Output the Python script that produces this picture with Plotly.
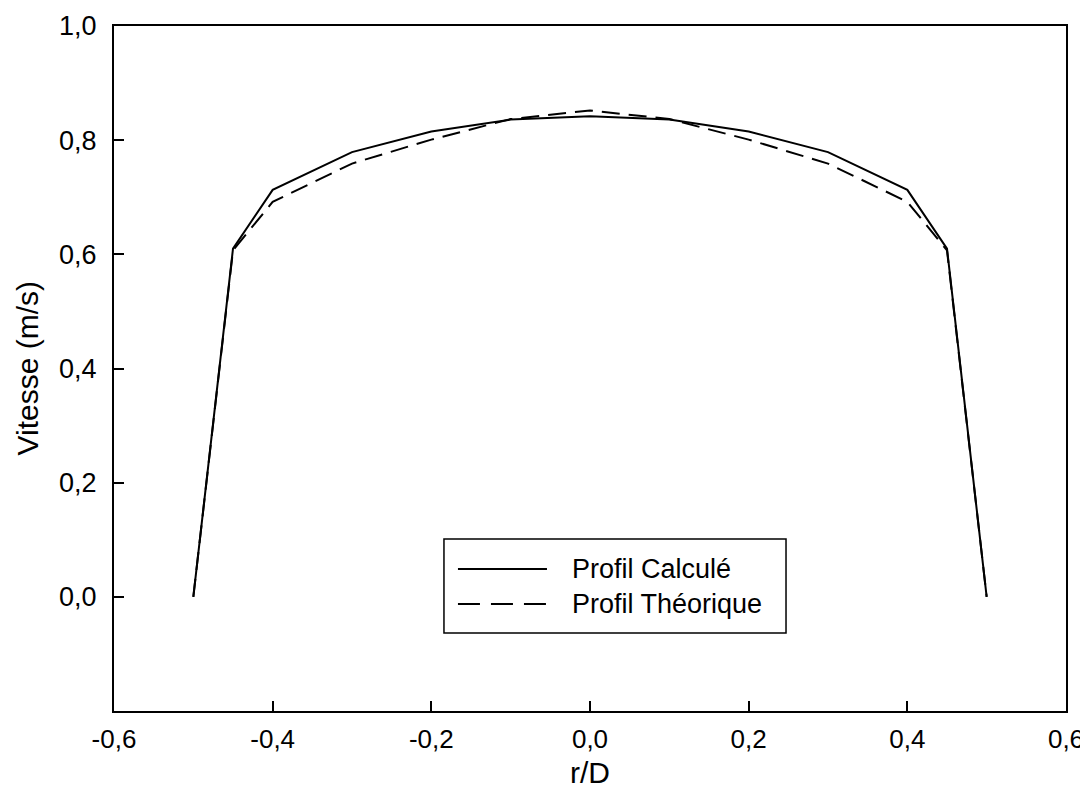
import plotly.graph_objects as go

r_over_d = [-0.5, -0.45, -0.4, -0.3, -0.2, -0.1, 0.0, 0.1, 0.2, 0.3, 0.4, 0.45, 0.5]
profil_calcule = [0.0, 0.610, 0.713, 0.779, 0.815, 0.836, 0.842, 0.836, 0.815, 0.779, 0.713, 0.610, 0.0]
profil_theorique = [0.0, 0.607, 0.692, 0.759, 0.801, 0.837, 0.852, 0.837, 0.801, 0.759, 0.692, 0.607, 0.0]

x_tickvals = [-0.6, -0.4, -0.2, 0.0, 0.2, 0.4, 0.6]
x_ticktext = ["-0,6", "-0,4", "-0,2", "0,0", "0,2", "0,4", "0,6"]
y_tickvals = [0.0, 0.2, 0.4, 0.6, 0.8, 1.0]
y_ticktext = ["0,0", "0,2", "0,4", "0,6", "0,8", "1,0"]

series_names = ["Profil Calculé", "Profil Théorique"]
x_title = "r/D"
y_title = "Vitesse (m/s)"

FONT = "Arial, Liberation Sans, Helvetica, sans-serif"

fig = go.Figure()
fig.add_trace(go.Scatter(x=r_over_d, y=profil_calcule, mode="lines", name=series_names[0],
                         line=dict(color="black", width=2), showlegend=False))
fig.add_trace(go.Scatter(x=r_over_d, y=profil_theorique, mode="lines", name=series_names[1],
                         line=dict(color="black", width=2, dash="18px,9px"), showlegend=False))

# custom legend (drawn in paper coordinates)
box = dict(x0=0.3466, x1=0.7059, y0=0.1139, y1=0.2511)
fig.add_shape(type="rect", xref="paper", yref="paper", **box,
              line=dict(color="black", width=1.5), fillcolor="white")
sample_x0, sample_x1 = 0.3613, 0.4548
rows_y = [0.2073, 0.1562]
dashes = ["solid", "22px,11px"]
for name, yy, d in zip(series_names, rows_y, dashes):
    fig.add_shape(type="line", xref="paper", yref="paper",
                  x0=sample_x0, x1=sample_x1, y0=yy, y1=yy,
                  line=dict(color="black", width=2, dash=d))
    fig.add_annotation(xref="paper", yref="paper", x=0.479, y=yy, text=name,
                       showarrow=False, xanchor="left", yanchor="middle",
                       font=dict(family=FONT, size=27, color="black"))

# axis titles
fig.add_annotation(xref="paper", yref="paper", x=0.5, y=0, yshift=-61, text=x_title,
                   showarrow=False, xanchor="center", yanchor="middle",
                   font=dict(family=FONT, size=30, color="black"))
fig.add_annotation(xref="paper", yref="paper", x=0, y=0.5, xshift=-87, text=y_title,
                   textangle=-90, showarrow=False, xanchor="center", yanchor="middle",
                   font=dict(family=FONT, size=30, color="black"))

fig.update_layout(
    width=1088, height=804,
    margin=dict(l=106, r=30, t=18, b=101, autoexpand=False),
    paper_bgcolor="white", plot_bgcolor="white",
    font=dict(family=FONT, color="black"),
)
fig.update_xaxes(
    range=[-0.6, 0.6], tickvals=x_tickvals, ticktext=x_ticktext,
    showgrid=False, zeroline=False, automargin=False,
    showline=True, linecolor="black", linewidth=2, mirror=True,
    ticks="inside", ticklen=10, tickwidth=1.5, tickcolor="black",
    tickfont=dict(family=FONT, size=26, color="black"),
    ticklabelstandoff=4,
)
fig.update_yaxes(
    range=[-0.2, 1.0], tickvals=y_tickvals, ticktext=y_ticktext,
    showgrid=False, zeroline=False, automargin=False,
    showline=True, linecolor="black", linewidth=2, mirror=True,
    ticks="inside", ticklen=10, tickwidth=1.5, tickcolor="black",
    tickfont=dict(family=FONT, size=27, color="black"),
    ticklabelstandoff=10,
)

fig.write_html("out.html")
